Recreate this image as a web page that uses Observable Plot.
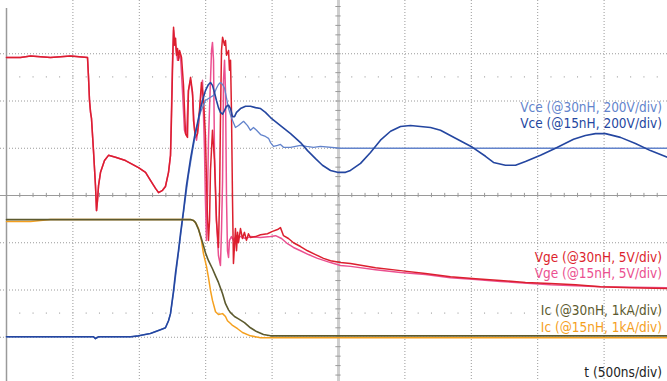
<!DOCTYPE html>
<html><head><meta charset="utf-8">
<script src="https://cdn.jsdelivr.net/npm/d3@7"></script>
<script src="https://cdn.jsdelivr.net/npm/@observablehq/plot@0.6"></script>
<style>
html,body{margin:0;padding:0;background:#fff;}
#wrap{position:relative;width:667px;height:381px;overflow:hidden;background:#fff;}
#wrap svg{display:block;}
.lbl{position:absolute;right:5px;font-family:"DejaVu Sans Condensed","DejaVu Sans",sans-serif;font-size:13.5px;line-height:16px;white-space:nowrap;}
</style></head><body><div id="wrap"></div>
<script>
// time in ns (500 ns/div), values in screen divisions from centre line
const vge30 = [[0,2.92],[105,2.92],[181,2.95],[331,2.92],[482,2.95],[610,2.92],[617,2.54],[625,2.01],[633,1.76],[640,1.63],[655,0.95],[670,0.21],[678,-0.32],[685,-0.11],[693,0.21],[708,0.49],[738,0.74],[768,0.85],[821,0.81],[896,0.74],[994,0.59],[1047,0.49],[1084,0.32],[1122,0.15],[1145,0.06],[1175,0.11],[1197,0.19],[1220,0.49],[1235,0.85],[1242,1.59],[1250,2.65],[1258,3.56],[1265,3.18],[1273,3.33],[1280,2.97],[1288,3.11],[1295,2.86],[1303,3.07],[1318,2.92],[1333,2.33],[1348,1.31],[1363,1.23],[1370,2.22],[1386,2.50],[1401,2.18],[1408,1.59],[1423,1.23],[1438,1.31],[1453,1.80],[1468,2.39],[1483,2.06],[1498,1.27],[1506,0.32],[1513,-0.42],[1521,-0.95],[1529,-0.53],[1536,0.53],[1551,1.38],[1566,0.74],[1581,-0.53],[1596,-1.10],[1604,-0.11],[1611,1.59],[1619,3.07],[1627,3.35],[1642,3.18],[1649,3.28],[1657,2.97],[1672,3.07],[1679,2.65],[1687,2.86],[1694,1.80],[1702,-0.11],[1709,-1.44],[1717,-1.06],[1724,-0.70],[1732,-1.17],[1740,-0.78],[1747,-1.00],[1762,-0.70],[1777,-0.91],[1792,-0.78],[1807,-0.95],[1822,-0.81],[1837,-0.89],[1875,-0.87],[1913,-0.83],[1965,-0.81],[2003,-0.76],[2041,-0.72],[2063,-0.68],[2086,-0.85],[2123,-0.91],[2161,-1.00],[2214,-1.08],[2267,-1.17],[2327,-1.25],[2387,-1.33],[2440,-1.38],[2515,-1.42],[2590,-1.44],[2779,-1.53],[2967,-1.59],[3155,-1.65],[3343,-1.72],[3532,-1.76],[3720,-1.80],[3908,-1.84],[4096,-1.86],[4285,-1.89],[4473,-1.93],[4699,-1.95],[4977,-1.97]];
const vge15 = [[0,2.92],[105,2.92],[181,2.95],[331,2.92],[482,2.95],[610,2.92],[617,2.54],[625,2.01],[633,1.76],[640,1.63],[655,0.95],[670,0.21],[678,-0.32],[685,-0.11],[693,0.21],[708,0.49],[738,0.74],[768,0.85],[821,0.81],[896,0.74],[994,0.59],[1047,0.49],[1084,0.32],[1122,0.15],[1145,0.06],[1175,0.11],[1197,0.19],[1220,0.49],[1235,0.85],[1242,1.80],[1250,2.86],[1258,3.50],[1273,3.18],[1288,2.86],[1310,2.97],[1325,2.22],[1340,1.38],[1355,1.27],[1370,2.22],[1386,2.44],[1401,2.12],[1416,1.38],[1431,1.17],[1446,1.48],[1461,2.01],[1476,2.44],[1491,0.95],[1498,-0.11],[1506,-0.95],[1513,-0.11],[1521,1.17],[1536,2.44],[1544,3.07],[1551,3.24],[1559,2.86],[1566,0.95],[1581,-0.53],[1596,-1.27],[1611,-1.48],[1619,-0.74],[1627,0.32],[1634,2.44],[1642,2.86],[1649,2.22],[1657,-0.11],[1664,-1.17],[1672,-1.31],[1679,-0.95],[1694,-0.87],[1709,-0.95],[1732,-0.85],[1762,-0.87],[1800,-0.91],[1837,-0.87],[1913,-0.89],[1988,-0.87],[2026,-0.85],[2071,-0.91],[2116,-1.02],[2161,-1.10],[2214,-1.17],[2274,-1.25],[2342,-1.33],[2440,-1.42],[2515,-1.48],[2590,-1.50],[2779,-1.57],[2967,-1.63],[3155,-1.67],[3343,-1.74],[3532,-1.78],[3720,-1.82],[4096,-1.89],[4473,-1.93],[4977,-1.95]];
const vce30 = [[0,-2.99],[407,-2.99],[633,-2.99],[655,-2.99],[670,-3.03],[693,-2.99],[934,-2.99],[994,-2.97],[1084,-2.92],[1160,-2.84],[1197,-2.80],[1220,-2.65],[1235,-2.50],[1258,-2.06],[1295,-1.21],[1333,-0.36],[1370,0.42],[1401,0.95],[1431,1.42],[1461,1.76],[1498,2.01],[1536,2.08],[1559,2.12],[1581,2.27],[1596,2.35],[1611,2.39],[1627,2.35],[1642,2.27],[1657,2.06],[1672,1.84],[1687,1.70],[1702,1.59],[1724,1.44],[1747,1.48],[1785,1.57],[1815,1.48],[1837,1.38],[1860,1.44],[1883,1.38],[1913,1.29],[1950,1.25],[1973,1.21],[1988,1.12],[2011,1.04],[2041,1.06],[2063,1.08],[2086,1.02],[2139,1.02],[2214,1.06],[2259,1.04],[2312,1.02],[2364,1.04],[2515,1.00],[4977,1.00]];
const vce15 = [[0,-2.99],[407,-2.99],[633,-2.99],[655,-2.99],[670,-3.03],[693,-2.99],[934,-2.99],[994,-2.97],[1084,-2.92],[1160,-2.84],[1197,-2.80],[1220,-2.65],[1235,-2.50],[1258,-2.01],[1273,-1.63],[1295,-1.17],[1310,-0.81],[1333,-0.32],[1355,0.21],[1386,0.78],[1416,1.25],[1438,1.53],[1461,1.84],[1476,2.01],[1498,2.22],[1521,2.35],[1536,2.39],[1551,2.33],[1566,2.18],[1581,2.01],[1596,1.86],[1611,1.76],[1627,1.72],[1642,1.80],[1657,1.89],[1672,1.91],[1687,1.84],[1702,1.67],[1717,1.67],[1732,1.76],[1762,1.84],[1800,1.89],[1837,1.89],[1875,1.86],[1913,1.84],[1950,1.76],[1988,1.65],[2063,1.48],[2139,1.31],[2214,1.12],[2267,0.95],[2327,0.78],[2379,0.64],[2440,0.53],[2492,0.49],[2553,0.49],[2590,0.53],[2666,0.68],[2741,0.91],[2816,1.17],[2892,1.36],[2967,1.46],[3042,1.48],[3117,1.46],[3193,1.44],[3268,1.38],[3381,1.21],[3509,1.02],[3607,0.83],[3667,0.70],[3757,0.64],[3833,0.64],[3908,0.72],[4021,0.85],[4134,1.00],[4270,1.19],[4359,1.27],[4435,1.31],[4510,1.31],[4623,1.23],[4736,1.10],[4849,0.95],[4977,0.81]];
const ic30 = [[0,-0.51],[1386,-0.51],[1408,-0.53],[1423,-0.57],[1446,-0.72],[1461,-0.85],[1483,-1.06],[1498,-1.21],[1521,-1.38],[1551,-1.55],[1574,-1.70],[1596,-1.84],[1627,-2.08],[1649,-2.29],[1672,-2.42],[1687,-2.48],[1717,-2.56],[1747,-2.61],[1792,-2.69],[1837,-2.80],[1883,-2.88],[1935,-2.94],[1988,-2.97],[4977,-2.97]];
const ic15 = [[0,-0.55],[181,-0.55],[256,-0.53],[331,-0.51],[1386,-0.51],[1408,-0.53],[1431,-0.61],[1446,-0.70],[1468,-0.95],[1483,-1.23],[1506,-1.50],[1521,-1.74],[1536,-2.01],[1551,-2.22],[1574,-2.46],[1596,-2.52],[1627,-2.50],[1649,-2.56],[1664,-2.65],[1687,-2.71],[1702,-2.75],[1740,-2.82],[1777,-2.90],[1837,-2.97],[1913,-3.01],[4977,-3.01]];

const labels = ["Vce (@30nH, 200V/div)","Vce (@15nH, 200V/div)","Vge (@30nH, 5V/div)","Vge (@15nH, 5V/div)","Ic (@30nH, 1kA/div)","Ic (@15nH, 1kA/div)","t (500ns/div)"];
const colors = ["#6384cc","#2446a0","#dc1f2e","#eb5090","#5c5a2e","#f5a01e","#222222"];

const gridX = [500,1000,1500,2000,3000,3500,4000,4500];
const gridY = [-3,-2,-1,1,2,3];
const minorX = d3.range(0, 5001, 100);
const minorY = d3.range(-4, 4.001, 0.2);

const line = (data, stroke, w=1.5) => Plot.line(data, {x: d => d[0], y: d => d[1], stroke, strokeWidth: w, curve: "linear"});

const chart = Plot.plot({
  width: 667, height: 381, margin: 0,
  x: {domain: [0, 5000], range: [6, 670], axis: null},
  y: {domain: [-4, 4], range: [384, 6], axis: null},
  style: {background: "#fff"},
  marks: [
    Plot.ruleY(gridY, {stroke: "#9a9a9a", strokeDasharray: "1,2"}),
    Plot.ruleX(gridX, {stroke: "#9a9a9a", strokeDasharray: "1,2"}),
    Plot.ruleX([2500], {stroke: "#cfcfcf", strokeWidth: 3}),
    Plot.ruleY(minorY, {y: d => d, x1: 2480, x2: 2520, stroke: "#9a9a9a"}),
    Plot.ruleY([0], {stroke: "#9a9a9a"}),
    Plot.ruleX(minorX, {x: d => d, y1: -0.045, y2: 0.045, stroke: "#9a9a9a"}),
    Plot.ruleX(minorX, {x: d => d, y1: 2.485, y2: 2.515, stroke: "#b0b0b0"}),
    Plot.ruleX(minorX, {x: d => d, y1: -2.515, y2: -2.485, stroke: "#b0b0b0"}),
    Plot.ruleX([0], {y1: -4, y2: 3.96, stroke: "#9a9a9a", strokeWidth: 1.5}),
    line(vge15, colors[3]),
    line(vge30, colors[2]),
    line(vce30, colors[0], 1.3),
    line(vce15, colors[1], 1.6),
    line(ic15, colors[5]),
    line(ic30, colors[4], 1.6)
  ]
});
const wrap = document.getElementById("wrap");
wrap.appendChild(chart);
const tops = [99,115,249,265,302,319,364];
labels.forEach((t, i) => {
  const d = document.createElement("div");
  d.className = "lbl";
  d.style.top = tops[i] + "px";
  d.style.color = colors[i];
  d.textContent = t;
  wrap.appendChild(d);
});
</script></body></html>
